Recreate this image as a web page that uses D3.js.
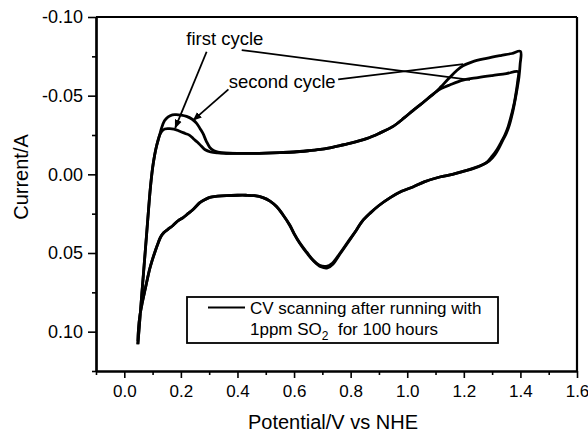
<!DOCTYPE html>
<html>
<head>
<meta charset="utf-8">
<script src="https://cdn.jsdelivr.net/npm/d3@7"></script>
<style>
  html, body { margin: 0; padding: 0; background: #fff; }
  svg { display: block; font-family: "Liberation Sans", Arial, sans-serif; }
</style>
</head>
<body>
<svg id="chart" width="588" height="432"></svg>
<script>
// ---------------- DATA ----------------
// [potential (V vs NHE), current (A)]
const sharedForwardStart = [
  [0.048, 0.108], [0.055, 0.092], [0.062, 0.076], [0.070, 0.058], [0.078, 0.040],
  [0.085, 0.024], [0.092, 0.009], [0.100, -0.004], [0.107, -0.012], [0.114, -0.018],
  [0.125, -0.025]
];
const firstCycleForward = [
  [0.131, -0.027], [0.143, -0.0288], [0.160, -0.029], [0.175, -0.0288], [0.196, -0.0274],
  [0.215, -0.026], [0.231, -0.0248], [0.245, -0.0225], [0.258, -0.0205], [0.272, -0.018],
  [0.286, -0.0156], [0.305, -0.0142], [0.330, -0.0136]
];
const secondCycleForward = [
  [0.131, -0.029], [0.142, -0.034], [0.155, -0.0365], [0.170, -0.0378], [0.184, -0.0379],
  [0.200, -0.0376], [0.220, -0.0368], [0.240, -0.035], [0.255, -0.0326], [0.268, -0.029],
  [0.278, -0.026], [0.290, -0.021], [0.302, -0.0172], [0.315, -0.0152], [0.331, -0.0141]
];
const sharedPlateau = [
  [0.360, -0.0134], [0.400, -0.0133], [0.450, -0.0133], [0.500, -0.0135], [0.550, -0.0138],
  [0.600, -0.0142], [0.650, -0.015], [0.700, -0.016], [0.750, -0.0178], [0.800, -0.0198],
  [0.856, -0.0227], [0.900, -0.026], [0.950, -0.0305], [0.990, -0.036], [1.020, -0.0405],
  [1.055, -0.0455], [1.085, -0.050], [1.103, -0.0526]
];
const firstCycleTop = [
  [1.120, -0.0545], [1.150, -0.0568], [1.197, -0.0599], [1.250, -0.0615], [1.300, -0.0628],
  [1.350, -0.064], [1.392, -0.0652], [1.391, -0.060], [1.386, -0.0535], [1.379, -0.046],
  [1.370, -0.039], [1.357, -0.0305], [1.345, -0.025], [1.332, -0.0205], [1.318, -0.016],
  [1.300, -0.0115], [1.280, -0.0075], [1.250, -0.005], [1.210, -0.0025]
];
const secondCycleTop = [
  [1.120, -0.0558], [1.150, -0.0615], [1.175, -0.066], [1.197, -0.069], [1.230, -0.0715],
  [1.280, -0.0737], [1.330, -0.0755], [1.370, -0.0768], [1.400, -0.0782], [1.399, -0.070],
  [1.395, -0.062], [1.389, -0.055], [1.381, -0.047], [1.372, -0.039], [1.362, -0.032],
  [1.350, -0.026], [1.338, -0.0217], [1.325, -0.017], [1.310, -0.0125], [1.290, -0.0085],
  [1.260, -0.0055], [1.230, -0.0035], [1.200, -0.002]
];
const firstCycleReverse = [
  [1.160, 0.0], [1.115, 0.0017], [1.060, 0.0048], [1.020, 0.008], [0.980, 0.0108],
  [0.940, 0.0148], [0.900, 0.0198], [0.870, 0.0245], [0.840, 0.030], [0.820, 0.0355],
  [0.790, 0.0435], [0.761, 0.051], [0.738, 0.057], [0.718, 0.0595], [0.695, 0.0588],
  [0.670, 0.0552], [0.645, 0.050], [0.620, 0.0438], [0.600, 0.0378], [0.585, 0.0325],
  [0.560, 0.0255], [0.538, 0.0205], [0.515, 0.017], [0.490, 0.0148], [0.460, 0.0136],
  [0.430, 0.0133], [0.400, 0.0133], [0.361, 0.0135], [0.330, 0.0139], [0.302, 0.0146],
  [0.280, 0.0165], [0.267, 0.018], [0.245, 0.022], [0.225, 0.025], [0.208, 0.0275],
  [0.190, 0.0295], [0.172, 0.0325], [0.155, 0.0348], [0.140, 0.037], [0.128, 0.040],
  [0.118, 0.0445], [0.108, 0.0495], [0.098, 0.055], [0.090, 0.060], [0.081, 0.067],
  [0.072, 0.0745], [0.063, 0.082], [0.055, 0.090], [0.050, 0.099], [0.048, 0.106]
];
const secondCycleReverse = [
  [1.160, 0.0], [1.115, 0.0017], [1.060, 0.0048], [1.020, 0.008], [0.980, 0.0108],
  [0.940, 0.0148], [0.900, 0.0198], [0.870, 0.0245], [0.840, 0.030], [0.820, 0.0355],
  [0.790, 0.043], [0.761, 0.0505], [0.735, 0.0565], [0.714, 0.0585], [0.690, 0.0578],
  [0.667, 0.0545], [0.645, 0.0495], [0.620, 0.0435], [0.600, 0.0375], [0.585, 0.0322],
  [0.560, 0.0255], [0.538, 0.0205], [0.515, 0.017], [0.490, 0.0148], [0.460, 0.0136],
  [0.430, 0.0133], [0.400, 0.0133], [0.361, 0.0135], [0.330, 0.0139], [0.302, 0.0146],
  [0.280, 0.0165], [0.267, 0.018], [0.245, 0.022], [0.225, 0.025], [0.208, 0.0275],
  [0.190, 0.0295], [0.172, 0.0325], [0.155, 0.0348], [0.140, 0.037], [0.128, 0.040],
  [0.118, 0.0445], [0.108, 0.0495], [0.098, 0.055], [0.090, 0.060], [0.081, 0.067],
  [0.072, 0.0745], [0.063, 0.082], [0.055, 0.090], [0.050, 0.099], [0.048, 0.108]
];

const xMajorTicks = [0.0, 0.2, 0.4, 0.6, 0.8, 1.0, 1.2, 1.4, 1.6];
const xMinorTicks = [-0.1, 0.1, 0.3, 0.5, 0.7, 0.9, 1.1, 1.3, 1.5];
const yMajorTicks = [-0.10, -0.05, 0.00, 0.05, 0.10];
const yMinorTicks = [-0.075, -0.025, 0.025, 0.075, 0.125];

const xTitle = "Potential/V vs NHE";
const yTitle = "Current/A";
const legendLine1 = "CV scanning after running with";
const annotations = [
  { text: "first cycle", at: [0.219, -0.0822] },
  { text: "second cycle", at: [0.369, -0.0549] }
];
// pointer lines [from, to] in data space
const pointers = [
  { from: [0.291, -0.0779], to: [0.180, -0.0295], head: true },
  { from: [0.415, -0.0790], to: [1.222, -0.0600], head: false },
  { from: [0.368, -0.0540], to: [0.244, -0.0345], head: true },
  { from: [0.756, -0.0604], to: [1.198, -0.0701], head: false }
];

// ---------------- CHART ----------------
(function () {
const svg = d3.select("#chart");
const pLeft = 96, pRight = 577, pTop = 17, pBottom = 371;

const x = d3.scaleLinear().domain([-0.1, 1.6]).range([pLeft, pRight]);
const y = d3.scaleLinear().domain([-0.1, 0.125]).range([pTop, pBottom]);

const firstCycle = sharedForwardStart.concat(firstCycleForward, sharedPlateau, firstCycleTop, firstCycleReverse);
const secondCycle = sharedForwardStart.concat(secondCycleForward, sharedPlateau, secondCycleTop, secondCycleReverse);

const line = d3.line().x(d => x(d[0])).y(d => y(d[1])).curve(d3.curveCatmullRom.alpha(0.5));

[firstCycle, secondCycle].forEach(c => {
  svg.append("path").attr("d", line(c))
    .attr("fill", "none").attr("stroke", "#000")
    .attr("stroke-width", 2.8).attr("stroke-linejoin", "round");
});

// frame (top and right)
svg.append("line").attr("x1", pLeft).attr("x2", pRight).attr("y1", pTop).attr("y2", pTop)
  .attr("stroke", "#000").attr("stroke-width", 2.2);
svg.append("line").attr("x1", pRight).attr("x2", pRight).attr("y1", pTop).attr("y2", pBottom)
  .attr("stroke", "#000").attr("stroke-width", 2.2);

// axes
const fmtX = d => d.toFixed(1);
const fmtY = d => d.toFixed(2);

const gx = svg.append("g").attr("transform", `translate(0,${pBottom})`)
  .call(d3.axisBottom(x).tickValues(xMajorTicks).tickFormat(fmtX).tickSize(7).tickSizeOuter(0).tickPadding(7));
const gxm = svg.append("g").attr("transform", `translate(0,${pBottom})`)
  .call(d3.axisBottom(x).tickValues(xMinorTicks).tickFormat("").tickSize(4).tickSizeOuter(0));
const gy = svg.append("g").attr("transform", `translate(${pLeft},0)`)
  .call(d3.axisLeft(y).tickValues(yMajorTicks).tickFormat(fmtY).tickSize(8).tickSizeOuter(0).tickPadding(5));
const gym = svg.append("g").attr("transform", `translate(${pLeft},0)`)
  .call(d3.axisLeft(y).tickValues(yMinorTicks).tickFormat("").tickSize(4).tickSizeOuter(0));

[gx, gxm, gy, gym].forEach(g => {
  g.selectAll("path.domain").attr("stroke", "#000").attr("stroke-width", 2.2);
  g.selectAll(".tick line").attr("stroke", "#000").attr("stroke-width", 1.6);
  g.selectAll("text").attr("fill", "#000")
    .style("font-family", '"Liberation Sans", Arial, sans-serif');
});
gx.selectAll("text").style("font-size", "17px");
gy.selectAll("text").style("font-size", "18px");

// axis titles
svg.append("text").attr("x", 333).attr("y", 429)
  .attr("text-anchor", "middle").style("font-size", "20px").text(xTitle);
svg.append("text").attr("transform", "translate(28,177) rotate(-90)")
  .attr("text-anchor", "middle").style("font-size", "20px").text(yTitle);

// annotations
annotations.forEach(a => {
  svg.append("text").attr("x", x(a.at[0])).attr("y", y(a.at[1]))
    .style("font-size", "18.5px").text(a.text);
});

svg.append("defs").append("marker").attr("id", "arrow")
  .attr("viewBox", "0 0 10 10").attr("refX", 9).attr("refY", 5)
  .attr("markerWidth", 5).attr("markerHeight", 5).attr("orient", "auto")
  .append("path").attr("d", "M0,1 L10,5 L0,9 Z").attr("fill", "#000");

pointers.forEach(p => {
  const l = svg.append("line")
    .attr("x1", x(p.from[0])).attr("y1", y(p.from[1]))
    .attr("x2", x(p.to[0])).attr("y2", y(p.to[1]))
    .attr("stroke", "#000").attr("stroke-width", 1.8);
  if (p.head) l.attr("marker-end", "url(#arrow)");
});

// legend
const lg = svg.append("g");
lg.append("rect").attr("x", 187).attr("y", 297).attr("width", 311).attr("height", 46)
  .attr("fill", "#fff").attr("stroke", "#000").attr("stroke-width", 1.8);
lg.append("line").attr("x1", 208).attr("x2", 245).attr("y1", 307.5).attr("y2", 307.5)
  .attr("stroke", "#000").attr("stroke-width", 2.2);
lg.append("text").attr("x", 250).attr("y", 314).style("font-size", "17px").text(legendLine1);
const t2 = lg.append("text").attr("x", 250).attr("y", 335).style("font-size", "17px");
t2.append("tspan").text("1ppm SO");
t2.append("tspan").attr("dy", 5).style("font-size", "12px").text("2");
t2.append("tspan").attr("dy", -5).text("\u00a0 for 100 hours");
})();
</script>
</body>
</html>
